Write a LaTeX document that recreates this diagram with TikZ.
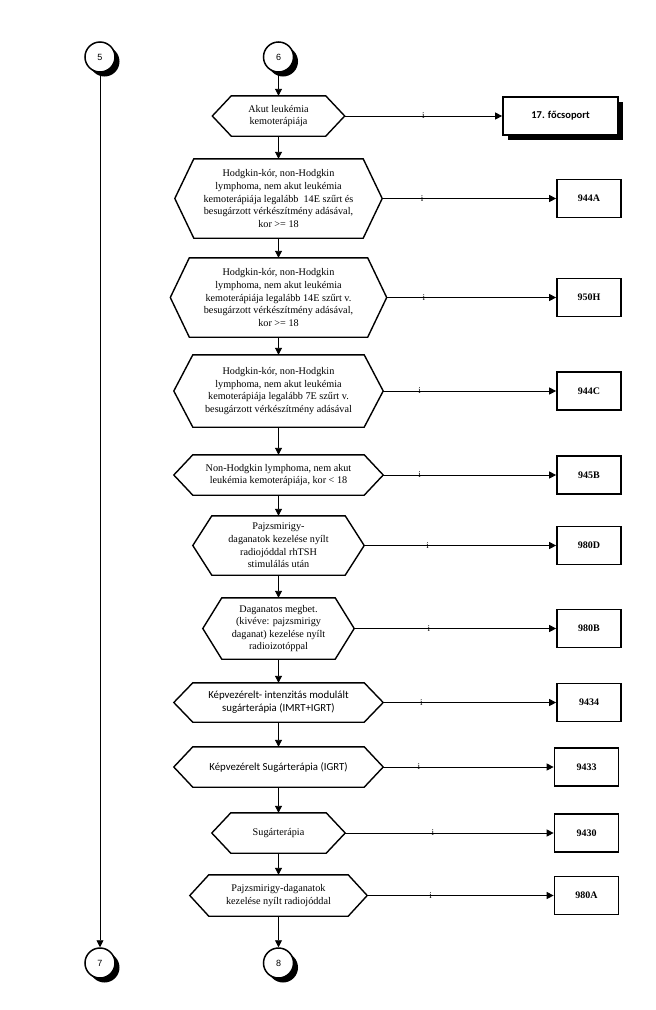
\documentclass[tikz,border=0pt]{standalone}
\usepackage{fontspec}
\setmainfont{Liberation Serif}
\newfontfamily\carlito{Carlito}
\newfontfamily\arialfont{Liberation Sans}
\usetikzlibrary{arrows.meta,shadows}

\tikzset{
  hexnode/.style={rectangle, align=center, inner sep=0pt, font=\fontsize{10.2}{12.6}\selectfont},
  hexline/.style={draw=black, line width=1.4pt, line join=miter},
  resbox/.style={rectangle, draw=black, line width=1.7pt, fill=white, minimum width=64pt, minimum height=38pt, font=\fontsize{10}{10}\selectfont\bfseries},
  conn/.style={circle, draw=black, line width=1.5pt, fill=white, minimum size=30pt, inner sep=0pt, font=\arialfont\fontsize{9}{9}\selectfont, drop shadow={shadow xshift=4.5pt, shadow yshift=-4.5pt, fill=black, opacity=1}},
  flow/.style={draw=black, line width=0.9pt, -{Triangle[length=7pt,width=7pt]}},
  ilabel/.style={inner sep=0pt, font=\fontsize{9}{9}\selectfont}
}
% hexagon frame round a decision node
\newcommand{\hexa}[1]{%
  \draw[hexline] ([xshift=19pt]#1.north west) -- ([xshift=-19pt]#1.north east) -- (#1.east)
    -- ([xshift=-19pt]#1.south east) -- ([xshift=19pt]#1.south west) -- (#1.west) -- cycle;}

\begin{document}
\begin{tikzpicture}[x=1pt,y=-1pt]
\useasboundingbox (0,0) rectangle (656,1010);

% page connectors
\node[conn] (c5) at (100,57) {5};
\node[conn] (c6) at (278.5,57) {6};
\node[conn] (c7) at (100,963) {7};
\node[conn] (c8) at (278.5,963) {8};

% decisions
\node[hexnode, minimum width=132pt, minimum height=40pt] (d1) at (278.5,116) {Akut leukémia\\kemoterápiája};
\node[hexnode, minimum width=207pt, minimum height=79pt] (d2) at (278.5,198.5) {Hodgkin-kór, non-Hodgkin\\lymphoma, nem akut leukémia\\kemoterápiája legalább~ 14E szűrt és\\besugárzott vérkészítmény adásával,\\kor >= 18};
\node[hexnode, minimum width=216pt, minimum height=79pt] (d3) at (278.5,297.5) {Hodgkin-kór, non-Hodgkin\\lymphoma, nem akut leukémia\\kemoterápiája legalább 14E szűrt v.\\besugárzott vérkészítmény adásával,\\kor >= 18};
\node[hexnode, minimum width=209pt, minimum height=72pt] (d4) at (278.5,391) {Hodgkin-kór, non-Hodgkin\\lymphoma, nem akut leukémia\\kemoterápiája legalább 7E szűrt v.\\besugárzott vérkészítmény adásával};
\node[hexnode, minimum width=209pt, minimum height=40pt] (d5) at (278.5,475) {Non-Hodgkin lymphoma, nem akut\\leukémia kemoterápiája, kor < 18};
\node[hexnode, minimum width=171pt, minimum height=59pt] (d6) at (278.5,545.5) {Pajzsmirigy-\\daganatok kezelése nyílt\\radiojóddal rhTSH\\stimulálás után};
\node[hexnode, minimum width=151pt, minimum height=61pt] (d7) at (278.5,628.5) {Daganatos megbet.\\(kivéve: pajzsmirigy\\daganat) kezelése nyílt\\radioizotóppal};
\node[hexnode, minimum width=209pt, minimum height=39pt, font=\carlito\fontsize{10.8}{13}\selectfont] (d8) at (278.5,702.5) {Képvezérelt- intenzitás modulált\\sugárterápia (IMRT+IGRT)};
\node[hexnode, minimum width=209pt, minimum height=40pt, font=\carlito\fontsize{10.8}{13}\selectfont] (d9) at (278.5,767) {Képvezérelt Sugárterápia (IGRT)};
\node[hexnode, minimum width=133pt, minimum height=40pt] (d10) at (278.5,833) {Sugárterápia};
\node[hexnode, minimum width=177pt, minimum height=41pt] (d11) at (278.5,895.5) {Pajzsmirigy-daganatok\\kezelése nyílt radiojóddal};
\hexa{d1} \hexa{d2} \hexa{d3} \hexa{d4} \hexa{d5} \hexa{d6}
\hexa{d7} \hexa{d8} \hexa{d9} \hexa{d10} \hexa{d11}

% results
\node[resbox, minimum width=115pt, font=\carlito\fontsize{10.5}{10.5}\selectfont\bfseries,
  drop shadow={shadow xshift=4.5pt, shadow yshift=-4.5pt, fill=black, opacity=1}] (r1) at (560.5,116) {17. főcsoport};
\node[resbox] (r2) at (589,198.5) {944A};
\node[resbox] (r3) at (589,297.5) {950H};
\node[resbox] (r4) at (589,391) {944C};
\node[resbox] (r5) at (589,475) {945B};
\node[resbox] (r6) at (589,545.5) {980D};
\node[resbox] (r7) at (589,628.5) {980B};
\node[resbox] (r8) at (589,702.5) {9434};
\node[resbox] (r9) at (586.5,767) {9433};
\node[resbox] (r10) at (586.5,833) {9430};
\node[resbox] (r11) at (586.5,895.5) {980A};

% main flow
\draw[flow] (c5) -- (c7);
\draw[flow] (c6) -- (d1);
\draw[flow] (d1) -- (d2);
\draw[flow] (d2) -- (d3);
\draw[flow] (d3) -- (d4);
\draw[flow] (d4) -- (d5);
\draw[flow] (d5) -- (d6);
\draw[flow] (d6) -- (d7);
\draw[flow] (d7) -- (d8);
\draw[flow] (d8) -- (d9);
\draw[flow] (d9) -- (d10);
\draw[flow] (d10) -- (d11);
\draw[flow] (d11) -- (c8);

% yes branches
\draw[flow] (d1) -- node[ilabel, pos=0.5] {i} (r1);
\draw[flow] (d2) -- node[ilabel, pos=0.23] {i} (r2);
\draw[flow] (d3) -- node[ilabel, pos=0.22] {i} (r3);
\draw[flow] (d4) -- node[ilabel, pos=0.21] {i} (r4);
\draw[flow] (d5) -- node[ilabel, pos=0.21] {i} (r5);
\draw[flow] (d6) -- node[ilabel, pos=0.33] {i} (r6);
\draw[flow] (d7) -- node[ilabel, pos=0.37] {i} (r7);
\draw[flow] (d8) -- node[ilabel, pos=0.22] {i} (r8);
\draw[flow] (d9) -- node[ilabel, pos=0.21] {i} (r9);
\draw[flow] (d10) -- node[ilabel, pos=0.42] {i} (r10);
\draw[flow] (d11) -- node[ilabel, pos=0.34] {i} (r11);
\end{tikzpicture}
\end{document}
